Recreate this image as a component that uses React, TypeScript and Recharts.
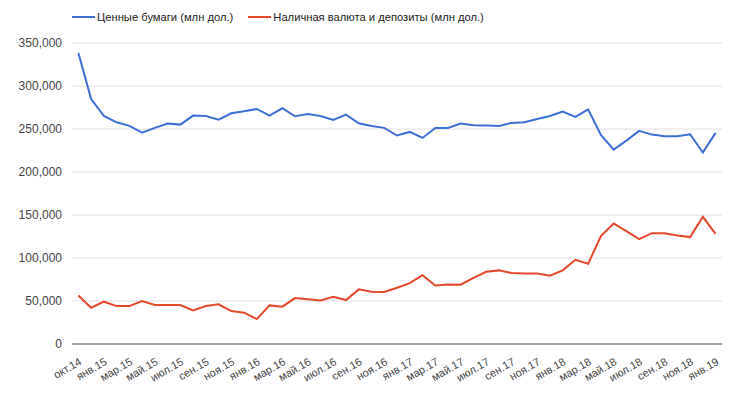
import { CartesianGrid, Legend, Line, LineChart, XAxis, YAxis } from "recharts";

const BLUE = "#3c6fd6";
const RED = "#e4472a";
const GRID = "#e0e0e0";
const AXIS_TEXT = "#444";
const FONT = "'Liberation Sans', Arial, sans-serif";

const months = [
  "окт.14", "дек.14",
  "янв.15", "фев.15", "мар.15", "апр.15", "май.15", "июн.15", "июл.15", "авг.15", "сен.15", "окт.15", "ноя.15", "дек.15",
  "янв.16", "фев.16", "мар.16", "апр.16", "май.16", "июн.16", "июл.16", "авг.16", "сен.16", "окт.16", "ноя.16", "дек.16",
  "янв.17", "фев.17", "мар.17", "апр.17", "май.17", "июн.17", "июл.17", "авг.17", "сен.17", "окт.17", "ноя.17", "дек.17",
  "янв.18", "фев.18", "мар.18", "апр.18", "май.18", "июн.18", "июл.18", "авг.18", "сен.18", "окт.18", "ноя.18", "дек.18",
  "янв.19",
];

// Ценные бумаги (млн дол.)
const securities = [
  338400, 284900, 265200, 257800, 253600, 245800, 251300, 256300, 255100, 265600,
  265200, 260900, 268300, 270600, 273300, 265600, 274100, 264800, 267500, 265200,
  260500, 266700, 256700, 253600, 251300, 242400, 246600, 239600, 251300, 251300,
  256300, 254400, 254000, 253600, 257100, 257800, 261700, 265200, 270200, 264000,
  272900, 243100, 226100, 236500, 247800, 243500, 241600, 241600, 243900, 222600,
  245500,
];

// Наличная валюта и депозиты (млн дол.)
const deposits = [
  56500, 42200, 49200, 44100, 44100, 49900, 45300, 45300, 45300, 39100,
  44100, 46100, 38300, 36400, 29000, 44900, 43400, 53400, 51900, 50700,
  55000, 51100, 63500, 60800, 60400, 65400, 70800, 80100, 68100, 69300,
  68900, 77000, 84000, 85600, 82500, 82100, 82100, 79400, 85600, 97900,
  93300, 125400, 140100, 131200, 122000, 128900, 128900, 126200, 124300, 147900,
  128100,
];

const yTicks = [0, 50000, 100000, 150000, 200000, 250000, 300000, 350000];

const seriesNames = ["Ценные бумаги (млн дол.)", "Наличная валюта и депозиты (млн дол.)"];

const data = months.map((m, i) => ({
  month: m,
  securities: securities[i],
  deposits: deposits[i],
}));

function XTick({ x, y, payload }: any) {
  return (
    <g transform={`translate(${x + 4},${y + 20})`}>
      <text
        textAnchor="end"
        transform="rotate(-30)"
        fontSize={11}
        fill={AXIS_TEXT}
        fontFamily={FONT}
      >
        {payload.value}
      </text>
    </g>
  );
}

function renderLegend() {
  const items = [
    { name: seriesNames[0], color: BLUE },
    { name: seriesNames[1], color: RED },
  ];
  return (
    <div style={{ display: "flex", alignItems: "center", fontFamily: FONT, fontSize: 11.2, color: "#222" }}>
      {items.map((it) => (
        <div key={it.name} style={{ display: "flex", alignItems: "center", marginRight: 15 }}>
          <span style={{ display: "inline-block", width: 23, height: 2, background: it.color, marginRight: 2 }} />
          <span style={{ whiteSpace: "nowrap" }}>{it.name}</span>
        </div>
      ))}
    </div>
  );
}

export default function App() {
  return (
    <div style={{ width: 745, height: 398 }}>
      <style>{"body{margin:0;}"}</style>
      <LineChart
        width={745}
        height={398}
        data={data}
        margin={{ top: 43, right: 23, bottom: 0, left: 0 }}
      >
        <Legend
          content={renderLegend}
          verticalAlign="top"
          align="left"
          wrapperStyle={{ top: 11, left: 72, height: 0 }}
        />
        <CartesianGrid vertical={false} stroke={GRID} />
        <XAxis
          dataKey="month"
          interval={1}
          tick={<XTick />}
          tickLine={false}
          tickSize={0}
          tickMargin={0}
          height={54}
          padding={{ left: 6.4, right: 6.4 }}
          axisLine={{ stroke: "#8a8a8a", strokeWidth: 1.5 }}
        />
        <YAxis
          domain={[0, 350000]}
          ticks={yTicks}
          width={72}
          axisLine={false}
          tickLine={false}
          tickSize={0}
          tickMargin={10}
          tickFormatter={(v) => Number(v).toLocaleString("en-US")}
          tick={{ fill: AXIS_TEXT, fontSize: 12, fontFamily: FONT }}
        />
        <Line
          type="linear"
          dataKey="securities"
          name={seriesNames[0]}
          stroke={BLUE}
          strokeWidth={2}
          dot={false}
          isAnimationActive={false}
        />
        <Line
          type="linear"
          dataKey="deposits"
          name={seriesNames[1]}
          stroke={RED}
          strokeWidth={2}
          dot={false}
          isAnimationActive={false}
        />
      </LineChart>
    </div>
  );
}
